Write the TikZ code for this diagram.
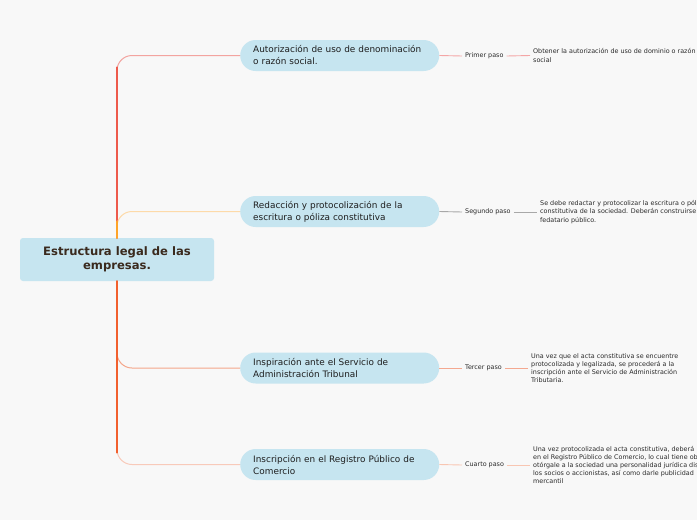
\documentclass[tikz,border=0pt]{standalone}
\usepackage{fontspec}
\setmainfont{DejaVu Sans}
\usetikzlibrary{calc}
\definecolor{bg}{HTML}{F8F8F8}
\definecolor{boxfill}{HTML}{C6E5F0}
\definecolor{roottext}{HTML}{3A2A1E}
\definecolor{midtext}{HTML}{1E1E1E}
\definecolor{smalltext}{HTML}{2A2A2A}
\definecolor{ca}{HTML}{EE5A4C}
\definecolor{cal}{HTML}{F3A4A0}
\definecolor{cb}{HTML}{FFA428}
\definecolor{cbl}{HTML}{FDDAA9}
\definecolor{cc}{HTML}{F2602E}
\definecolor{ccl}{HTML}{F4A68A}
\definecolor{cdl}{HTML}{F8CABA}
\definecolor{la}{HTML}{F4A6A6}
\definecolor{lb}{HTML}{A8A8A8}
\definecolor{lc}{HTML}{F4A890}
\definecolor{ld}{HTML}{F8C6B2}
\begin{document}
\begin{tikzpicture}[x=1pt,y=-1pt,
  rootbox/.style={fill=boxfill, rounded corners=3pt, minimum width=194pt, minimum height=43pt,
    align=center, text=roottext, inner sep=0pt,
    font=\fontsize{11.6}{14.5}\selectfont\bfseries},
  midbox/.style={fill=boxfill, rounded corners=15.5pt, minimum width=199pt, minimum height=31pt,
    text width=173pt, align=left, inner xsep=13pt, inner ysep=0pt, text=midtext,
    font=\fontsize{8.9}{12}\selectfont, anchor=west},
  steplbl/.style={font=\fontsize{6.4}{8.2}\selectfont, text=smalltext, inner xsep=3pt, inner ysep=1pt, anchor=west},
  desc/.style={font=\fontsize{6.4}{8.2}\selectfont, text=smalltext, align=left, inner xsep=3pt, inner ysep=1pt, anchor=west},
  trunk/.style={line width=2.3pt, line cap=round},
  twig/.style={line width=1pt, rounded corners=15pt},
  leaf/.style={line width=0.9pt}
]
\fill[bg] (0,0) rectangle (697,520);
\useasboundingbox (0,0) rectangle (697,520);

\node[rootbox] (root) at (117,259.5) {Estructura legal de las\\empresas.};

\node[midbox] (m1) at (240,55.5) {Autorización de uso de denominación\\o razón social.};
\node[midbox] (m2) at (240,211.5) {Redacción y protocolización de la\\escritura o póliza constitutiva};
\node[midbox] (m3) at (240,368) {Inspiración ante el Servicio de\\Administración Tribunal};
\node[midbox] (m4) at (240,464.5) {Inscripción en el Registro Público de\\Comercio};

\node[steplbl] (s1) at (462,56) {Primer paso};
\node[steplbl] (s2) at (462,212) {Segundo paso};
\node[steplbl] (s3) at (462,368) {Tercer paso};
\node[steplbl] (s4) at (462,465) {Cuarto paso};

\node[desc] (d1) at (530,55.5) {Obtener la autorización de uso de dominio o razón\\social};
\node[desc] (d2) at (537,212) {Se debe redactar y protocolizar la escritura o póliza\\constitutiva de la sociedad. Deberán construirse ante\\fedatario público.};
\node[desc] (d3) at (528,368) {Una vez que el acta constitutiva se encuentre\\protocolizada y legalizada, se procederá a la\\inscripción ante el Servicio de Administración\\Tributaria.};
\node[desc] (d4) at (530,465) {Una vez protocolizada el acta constitutiva, deberá\\en el Registro Público de Comercio, lo cual tiene objeto\\otórgale a la sociedad una personalidad jurídica distinta\\los socios o accionistas, así como darle publicidad\\mercantil};

% branches from the root
\draw[twig, cal] (root.north) |- (m1.west);
\draw[trunk, ca] (root.north) -- ([yshift=-12pt]root.north |- m1.west);
\draw[twig, cbl] (root.north) |- (m2.west);
\draw[trunk, cb] (root.north) -- ([yshift=-10pt]root.north |- m2.west);
\draw[twig, ccl] (root.south) |- (m3.west);
\draw[twig, cdl] (root.south) |- (m4.west);
\draw[trunk, cc] (root.south) -- ([yshift=12pt]root.south |- m4.west);

% leaves
\draw[leaf, la] (m1.east) -- (s1.west);
\draw[leaf, la] (s1.east) -- (d1.west);
\draw[leaf, lb] (m2.east) -- (s2.west);
\draw[leaf, lb] (s2.east) -- (d2.west);
\draw[leaf, lc] (m3.east) -- (s3.west);
\draw[leaf, lc] (s3.east) -- (d3.west);
\draw[leaf, ld] (m4.east) -- (s4.west);
\draw[leaf, ld] (s4.east) -- (d4.west);
\end{tikzpicture}
\end{document}
